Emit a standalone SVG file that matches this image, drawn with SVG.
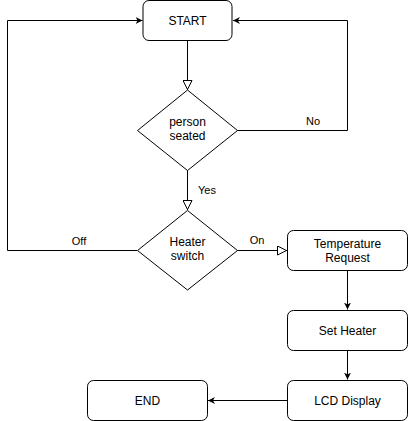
<svg xmlns="http://www.w3.org/2000/svg" width="408" height="421" viewBox="0 0 408 421">
<style>
.n{fill:#fff;stroke:#000;stroke-width:1}
.t{font-family:"Liberation Sans",Arial,sans-serif;font-size:12px;fill:#000;text-anchor:middle}
.l{font-family:"Liberation Sans",Arial,sans-serif;font-size:11px;fill:#000;text-anchor:middle}
.e{fill:none;stroke:#000;stroke-width:1}
</style>
<defs>
<marker id="f" viewBox="0 0 10 10" refX="10" refY="5" markerWidth="7" markerHeight="7" markerUnits="userSpaceOnUse" orient="auto"><path d="M0,0 L10,5 L0,10 L3,5 Z" fill="#000"/></marker>
<marker id="h" viewBox="0 0 10 10" refX="10" refY="5" markerWidth="10" markerHeight="10" markerUnits="userSpaceOnUse" orient="auto"><path d="M0.5,0.5 L9.5,5 L0.5,9.5 Z" fill="#fff" stroke="#000" stroke-width="1"/></marker>
</defs>
<rect width="408" height="421" fill="#fff"/>
<g id="connectors">
<path class="e" d="M187.5,40.5 V90" marker-end="url(#h)"/>
<path class="e" d="M237,130.5 H347.5 V20.5 H233" marker-end="url(#f)"/>
<text class="l" x="313" y="125">No</text>
<path class="e" d="M187.5,170 V210" marker-end="url(#h)"/>
<text class="l" x="207" y="194">Yes</text>
<path class="e" d="M137,250.5 H7.5 V20.5 H142.5" marker-end="url(#f)"/>
<text class="l" x="79" y="245">Off</text>
<path class="e" d="M237,250.5 H287" marker-end="url(#h)"/>
<text class="l" x="257" y="244">On</text>
<path class="e" d="M347.5,270.5 V309.5" marker-end="url(#f)"/>
<path class="e" d="M347.5,350.5 V379.5" marker-end="url(#f)"/>
<path class="e" d="M287,400.5 H208" marker-end="url(#f)"/>
</g>
<g id="start"><rect class="n" x="143" y="0.5" width="89" height="40" rx="6"/><text class="t" x="187.5" y="24.5">START</text></g>
<g id="person-seated"><polygon class="n" points="187.5,90 237.5,130.5 187.5,170.5 137.5,130.5"/><text class="t" x="187.5" y="126">person</text><text class="t" x="187.5" y="140">seated</text></g>
<g id="heater-switch"><polygon class="n" points="187.5,210.5 237.5,250.5 187.5,290 137.5,250.5"/><text class="t" x="187.5" y="246">Heater</text><text class="t" x="187.5" y="260">switch</text></g>
<g id="temperature-request"><rect class="n" x="287.5" y="230.5" width="120" height="40" rx="6"/><text class="t" x="347.5" y="248">Temperature</text><text class="t" x="347.5" y="262">Request</text></g>
<g id="set-heater"><rect class="n" x="287.5" y="310.5" width="120" height="40" rx="6"/><text class="t" x="347.5" y="334.5">Set Heater</text></g>
<g id="lcd-display"><rect class="n" x="287.5" y="380.5" width="120" height="40" rx="6"/><text class="t" x="347.5" y="404.5">LCD Display</text></g>
<g id="end"><rect class="n" x="87.5" y="380.5" width="120" height="40" rx="6"/><text class="t" x="147.5" y="404.5">END</text></g>
</svg>
